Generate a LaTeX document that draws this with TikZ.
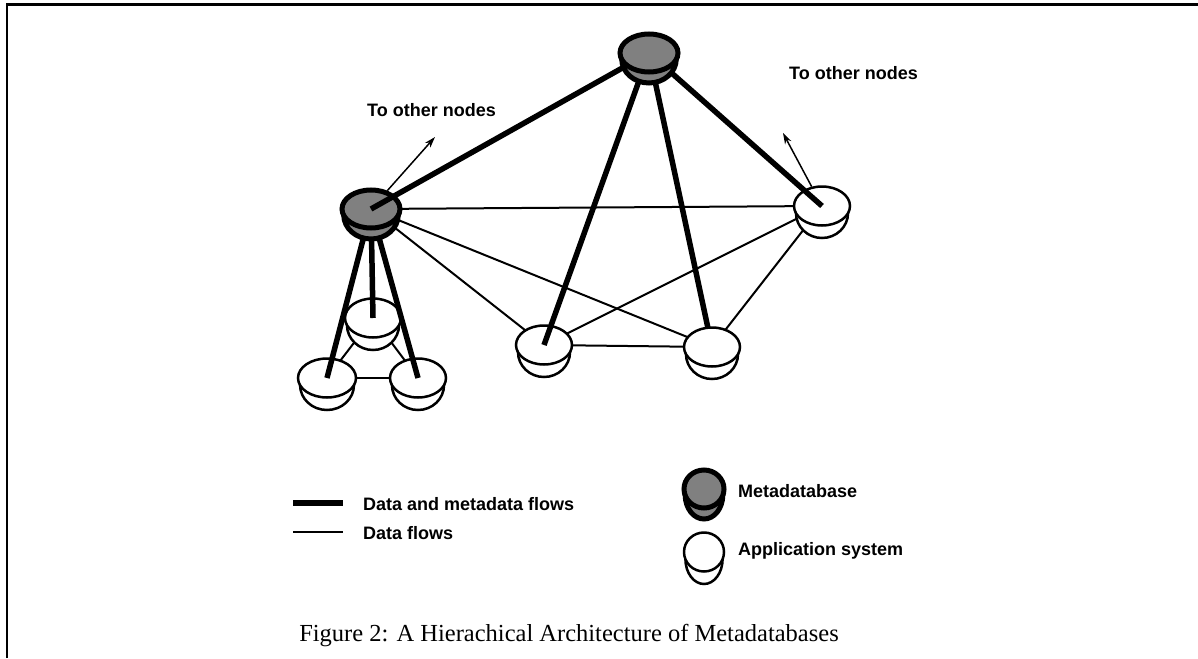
\documentclass[tikz,border=0pt]{standalone}
\usepackage{fontspec}
\setmainfont{Liberation Serif}
\newfontfamily\labelfont{Liberation Sans}
\usetikzlibrary{shapes.geometric,arrows.meta}
\definecolor{metagray}{gray}{0.5}
\tikzset{
  lbl/.style={font=\labelfont\bfseries\fontsize{18}{21}\selectfont, inner sep=0pt, anchor=west},
  dataflow/.style={line width=2pt},
  metaflow/.style={line width=5.5pt},
  pointer/.style={line width=1.5pt, ->},
  appdisc/.style={ellipse, draw, line width=2.5pt, fill=white, minimum height=39pt, inner sep=0pt},
  metadisc/.style={ellipse, draw, line width=5pt, fill=metagray, minimum height=38pt, inner sep=0pt},
  pics/appdb/.style={code={
    \draw[line width=2.5pt, fill=white] ({-0.93*#1pt},-7pt) arc[start angle=180, end angle=360, x radius={0.93*#1pt}, y radius=25pt] -- cycle;
    \node[appdisc, minimum width={2*#1pt}] (-d) at (0,0) {};
  }},
  pics/metadb/.style={code={
    \draw[line width=5pt, fill=metagray] ({-0.94*#1pt},-6pt) arc[start angle=180, end angle=360, x radius={0.94*#1pt}, y radius=24pt] -- cycle;
    \node[metadisc, minimum width={2*#1pt}] (-d) at (0,0) {};
  }},
}
\begin{document}
\begin{tikzpicture}[x=1pt, y=-1pt, >={Stealth[length=11pt,width=7pt]}]
  \useasboundingbox (0,0) rectangle (1198,658);
  % frame
  \draw[line width=2.6pt] (7,658) -- (7,4.5) -- (1198,4.5);

  % positions
  \coordinate (tm) at (649,53);
  \coordinate (lm) at (371,209);
  \coordinate (ar) at (822,206);
  \coordinate (a1) at (544,345);
  \coordinate (a2) at (712,347);
  \coordinate (c1) at (373,318);
  \coordinate (c2) at (327,378);
  \coordinate (c3) at (418,378);
  \coordinate (tol) at (435,137);
  \coordinate (tor) at (783,133);

  % data flows
  \draw[dataflow] (lm) -- (ar);
  \draw[dataflow] (lm) -- (a1);
  \draw[dataflow] (lm) -- (a2);
  \draw[dataflow] (ar) -- (a1);
  \draw[dataflow] (ar) -- (a2);
  \draw[dataflow] (a1) -- (a2);
  \draw[dataflow] (c1) -- (c2);
  \draw[dataflow] (c1) -- (c3);
  \draw[dataflow] (c2) -- (c3);
  \draw[metaflow] (tm) -- (a2);

  % application systems
  \pic (a1) at (a1) {appdb=28};
  \pic (a2) at (a2) {appdb=28};
  \pic (ar) at (ar) {appdb=28};
  \pic (c1) at (c1) {appdb=28};
  \pic (c2) at (c2) {appdb=29};
  \pic (c3) at (c3) {appdb=28};

  % lower metadatabase
  \draw[metaflow] (lm) -- (c1);
  \draw[metaflow] (lm) -- (c2);
  \draw[metaflow] (lm) -- (c3);
  \pic (lm) at (lm) {metadb=29};

  % top metadatabase
  \draw[metaflow] (tm) -- (lm);
  \draw[metaflow] (tm) -- (a1);
  \draw[metaflow] (tm) -- (ar);
  \draw[pointer] (lm-d) -- (tol);
  \draw[pointer] (ar-d) -- (tor);
  \pic (tm) at (tm) {metadb=29};

  \node[lbl] (tollbl) at (367,110) {To other nodes};
  \node[lbl] (torlbl) at (789,73) {To other nodes};

  % legend
  \coordinate (lg1a) at (293,503);
  \coordinate (lg1b) at (343,503);
  \coordinate (lg2a) at (293,532);
  \coordinate (lg2b) at (343,532);
  \draw[metaflow] (lg1a) -- (lg1b);
  \draw[dataflow] (lg2a) -- (lg2b);
  \node[lbl] (lgmeta) at (363,504) {Data and metadata flows};
  \node[lbl] (lgdata) at (363,533) {Data flows};
  \pic (lgm) at (704,489) {metadb=20};
  \pic (lga) at (704,552) {appdb=20};
  \node[lbl] (lgmdb) at (738,491) {Metadatabase};
  \node[lbl] (lgapp) at (738,551) {Application system};

  % caption
  \node[font=\fontsize{24.5}{28}\selectfont, inner sep=0pt] (caption) at (569,636)
    {Figure 2: A Hierachical Architecture of Metadatabases};
\end{tikzpicture}
\end{document}
